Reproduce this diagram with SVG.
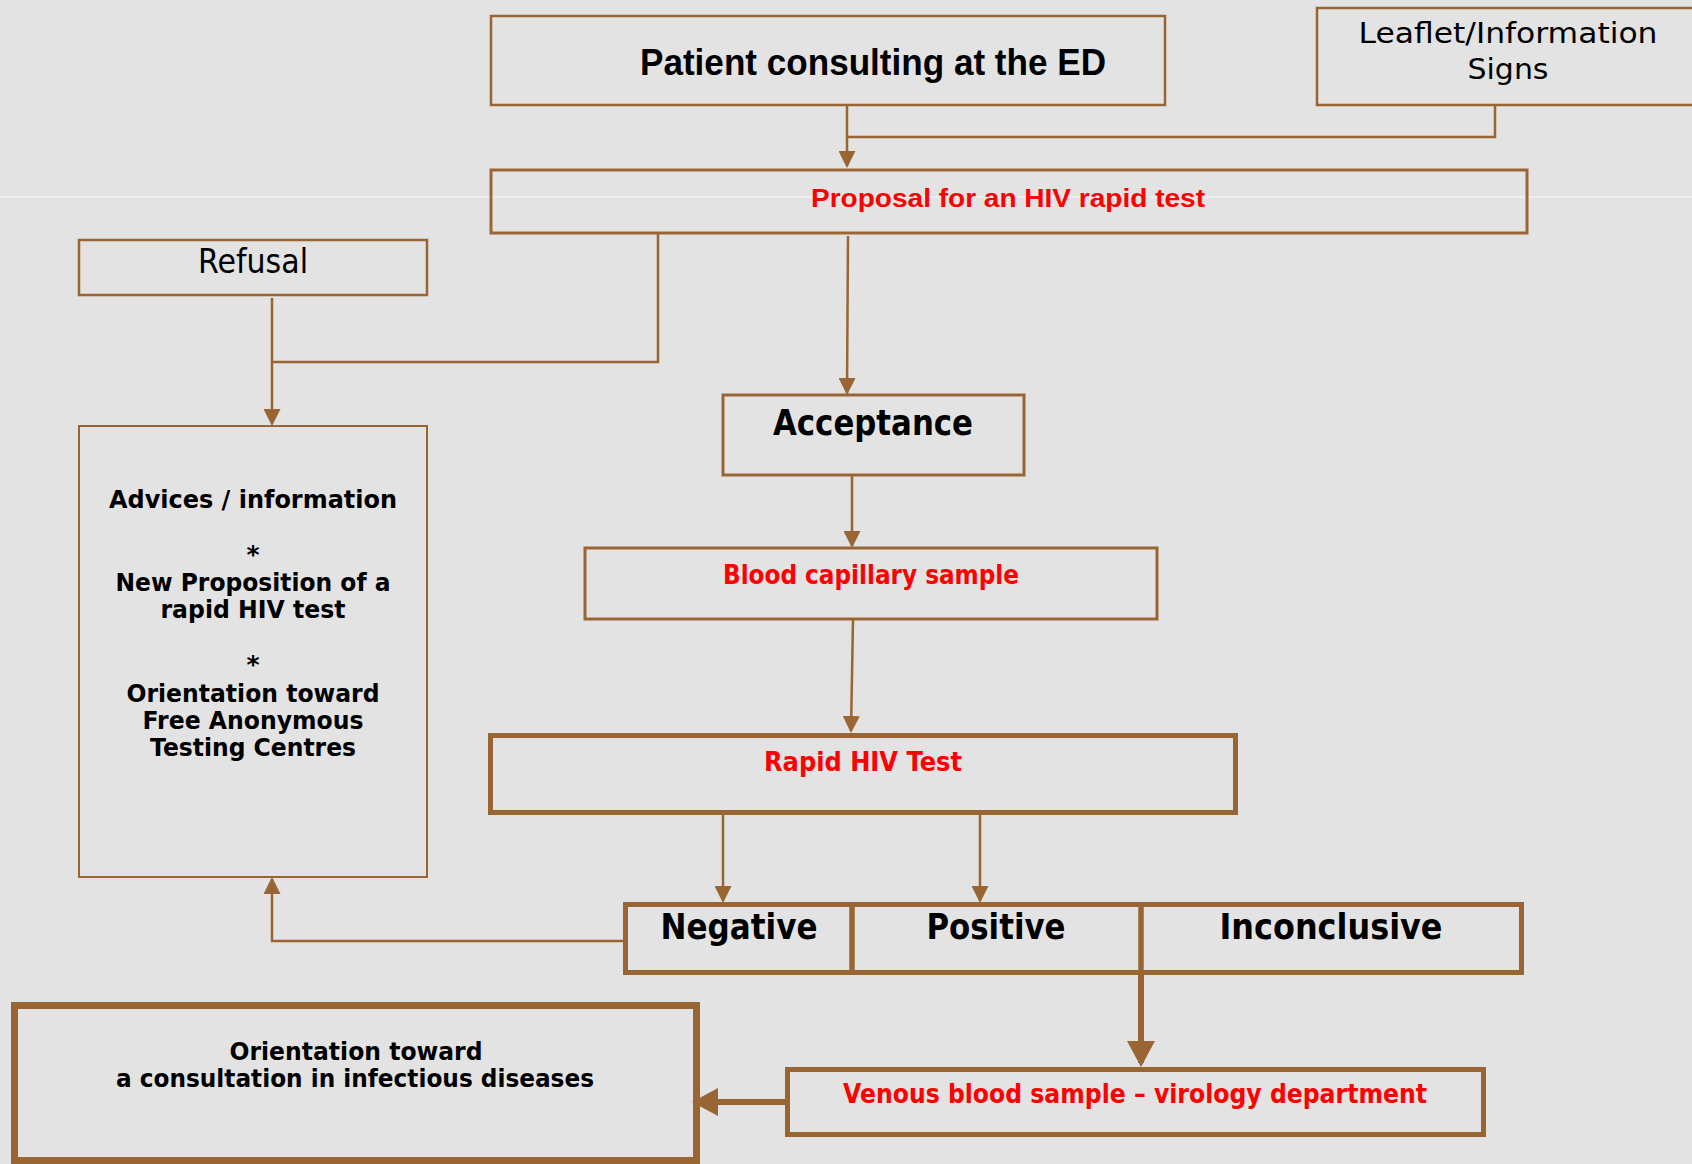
<svg xmlns="http://www.w3.org/2000/svg" width="1692" height="1164" viewBox="0 0 1692 1164">
<style>
.box{fill:none;stroke:#996633;stroke-width:2.5}
.thick{fill:none;stroke:#996633;stroke-width:5}
.con{fill:none;stroke:#996633;stroke-width:2.5}
.bigcon{fill:none;stroke:#996633;stroke-width:6}
.t{font-family:"DejaVu Sans","Liberation Sans",sans-serif;text-anchor:middle;fill:#000}
.n{font-family:"Liberation Sans Narrow","Liberation Sans",sans-serif;text-anchor:middle;font-weight:bold;fill:#000}
.b{font-weight:bold}
.red{fill:#ff0000}
</style>
<defs>
<marker id="ah" markerUnits="userSpaceOnUse" viewBox="0 0 17 17" markerWidth="17" markerHeight="17" refX="15" refY="8.5" orient="auto">
<path d="M0,0 L17,8.5 L0,17 z" fill="#996633"/>
</marker>
<marker id="ahb" markerUnits="userSpaceOnUse" viewBox="0 0 26 28" markerWidth="26" markerHeight="28" refX="22" refY="14" orient="auto">
<path d="M0,0 L26,14 L0,28 z" fill="#996633"/>
</marker>
</defs>
<rect x="0" y="0" width="1692" height="1164" fill="#e3e3e3"/>
<line x1="0" y1="197" x2="1692" y2="197" stroke="#ffffff" stroke-width="1" opacity="0.8"/>

<g id="connectors">
<path class="con" d="M847 105 V166" marker-end="url(#ah)"/>
<path class="con" d="M1495 105 V137 H847"/>
<path class="con" d="M658 233 V362 H272"/>
<path class="con" d="M272 298 V424" marker-end="url(#ah)"/>
<path class="con" d="M848 236 L847 393" marker-end="url(#ah)"/>
<path class="con" d="M852 475 V546" marker-end="url(#ah)"/>
<path class="con" d="M853 619 L851 731" marker-end="url(#ah)"/>
<path class="con" d="M723 815 V901" marker-end="url(#ah)"/>
<path class="con" d="M980 815 V901" marker-end="url(#ah)"/>
<path class="con" d="M623 941 H272 V879" marker-end="url(#ah)"/>
<path class="bigcon" d="M1141 975 V1063" marker-end="url(#ahb)"/>
<path class="bigcon" d="M785 1102 H696" marker-end="url(#ahb)"/>
</g>

<g id="patient">
<rect class="box" x="491" y="16" width="674" height="89"/>
<text class="n" x="873" y="75" font-size="36" textLength="466" lengthAdjust="spacingAndGlyphs">Patient consulting at the ED</text>
</g>

<g id="leaflet">
<rect class="box" x="1317" y="8" width="400" height="97"/>
<text class="t" x="1508" y="43" font-size="28" textLength="299" lengthAdjust="spacingAndGlyphs">Leaflet/Information</text>
<text class="t" x="1508" y="79" font-size="28" textLength="81" lengthAdjust="spacingAndGlyphs">Signs</text>
</g>

<g id="proposal">
<rect class="box" x="491" y="170" width="1036" height="63" style="stroke-width:3"/>
<text class="n red" x="1008" y="207" font-size="26" textLength="394" lengthAdjust="spacingAndGlyphs">Proposal for an HIV rapid test</text>
</g>

<g id="refusal">
<rect class="box" x="79" y="240" width="348" height="55"/>
<text class="t" x="253" y="273" font-size="34" textLength="110" lengthAdjust="spacingAndGlyphs">Refusal</text>
</g>

<g id="advices">
<rect class="box" x="79" y="426" width="348" height="451" style="stroke-width:2"/>
<text class="t b" x="253" y="508" font-size="25" textLength="288" lengthAdjust="spacingAndGlyphs">Advices / information</text>
<text class="t b" x="253" y="563" font-size="25">*</text>
<text class="t b" x="253" y="591" font-size="25" textLength="275" lengthAdjust="spacingAndGlyphs">New Proposition of a</text>
<text class="t b" x="253" y="618" font-size="25" textLength="185" lengthAdjust="spacingAndGlyphs">rapid HIV test</text>
<text class="t b" x="253" y="673" font-size="25">*</text>
<text class="t b" x="253" y="702" font-size="25" textLength="253" lengthAdjust="spacingAndGlyphs">Orientation toward</text>
<text class="t b" x="253" y="729" font-size="25" textLength="221" lengthAdjust="spacingAndGlyphs">Free Anonymous</text>
<text class="t b" x="253" y="756" font-size="25" textLength="206" lengthAdjust="spacingAndGlyphs">Testing Centres</text>
</g>

<g id="acceptance">
<rect class="box" x="723" y="395" width="301" height="80" style="stroke-width:3"/>
<text class="t b" x="873" y="435" font-size="36" textLength="200" lengthAdjust="spacingAndGlyphs">Acceptance</text>
</g>

<g id="blood">
<rect class="box" x="585" y="548" width="572" height="71" style="stroke-width:3"/>
<text class="t b red" x="871" y="584" font-size="26" textLength="296" lengthAdjust="spacingAndGlyphs">Blood capillary sample</text>
</g>

<g id="rapid">
<rect class="thick" x="490.5" y="735.5" width="745" height="77"/>
<text class="t b red" x="863" y="771" font-size="26" textLength="198" lengthAdjust="spacingAndGlyphs">Rapid HIV Test</text>
</g>

<g id="negative">
<rect class="thick" x="625.5" y="904.5" width="226.5" height="68"/>
<text class="t b" x="739" y="939" font-size="36" textLength="157" lengthAdjust="spacingAndGlyphs">Negative</text>
</g>

<g id="positive">
<rect class="thick" x="852" y="904.5" width="289" height="68"/>
<text class="t b" x="996" y="939" font-size="36" textLength="139" lengthAdjust="spacingAndGlyphs">Positive</text>
</g>

<g id="inconclusive">
<rect class="thick" x="1141" y="904.5" width="380.5" height="68"/>
<text class="t b" x="1331" y="939" font-size="36" textLength="223" lengthAdjust="spacingAndGlyphs">Inconclusive</text>
</g>

<g id="venous">
<rect class="thick" x="787.5" y="1069.5" width="696" height="65"/>
<text class="t b red" x="1135" y="1103" font-size="26" textLength="584" lengthAdjust="spacingAndGlyphs">Venous blood sample – virology department</text>
</g>

<g id="orientation">
<rect class="box" x="14.5" y="1005.5" width="682" height="155" style="stroke-width:7"/>
<text class="t b" x="356" y="1060" font-size="25" textLength="253" lengthAdjust="spacingAndGlyphs">Orientation toward</text>
<text class="t b" x="355" y="1087" font-size="25" textLength="478" lengthAdjust="spacingAndGlyphs">a consultation in infectious diseases</text>
</g>
</svg>
